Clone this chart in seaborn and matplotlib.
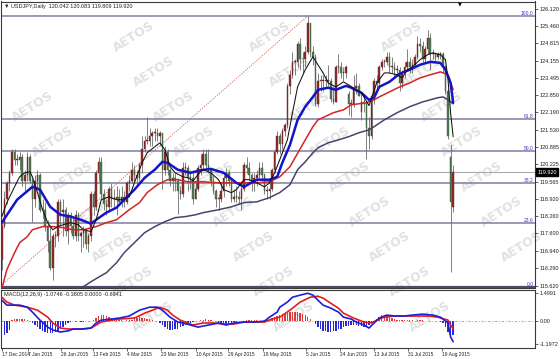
import numpy as np
import matplotlib
matplotlib.use("Agg")
import matplotlib.pyplot as plt
import matplotlib.transforms as mtransforms
import seaborn as sns

# ------------------------------------------------------------------ data
# daily USDJPY candles, 17 Dec 2014 .. 25 Aug 2015 (weekdays, no 25 Dec / 1 Jan)
opens = [116.6, 117.9, 118.9, 119.5, 119.9, 120.7, 120.4, 120.4, 120.5, 119.6,
         119.8, 120.5, 119.6, 118.9, 119.6, 119.8, 118.5, 118.5, 117.9, 117.3, 116.3, 117.5, 117.5, 118.8, 118.4, 118.5, 117.7, 118.3, 117.9, 117.5, 118.3,
         117.5, 117.6, 117.7, 117.2, 117.5, 119.1, 118.6, 119.9, 120.3, 119.1, 118.7, 118.6, 119.3, 118.9, 118.9, 119.0, 118.8, 119.0, 118.8, 119.5,
         119.6, 120.0, 119.8, 119.7, 120.2, 120.8, 121.1, 121.1, 121.3, 121.4, 121.4, 121.3, 121.4, 120.0, 120.7, 120.0, 119.6, 119.7, 119.6, 119.2, 119.1, 120.1,
         120.1, 119.7, 119.7, 118.9, 119.3, 120.1, 120.2, 120.6, 120.2, 120.0, 119.6, 119.2, 118.9, 118.9, 119.2, 119.7, 119.9, 119.6, 118.9, 119.0, 119.0, 118.9,
         119.3, 120.2, 120.1, 119.8, 119.5, 119.7, 119.8, 120.1, 119.8, 119.2, 119.2, 119.3, 120.0, 120.7, 121.3, 121.0, 121.5, 121.7, 123.2, 123.6, 124.1,
         124.1, 124.8, 124.2, 124.2, 124.5, 125.6, 124.5, 124.3, 122.5, 123.4, 123.4, 123.4, 123.4, 123.4, 122.7, 122.6, 123.9, 123.9, 123.7, 123.7, 122.9, 122.5,
         122.5, 123.1, 123.2, 122.2, 122.6, 122.5, 121.6, 121.3, 122.8, 123.4, 123.3, 123.9, 124.1, 124.1, 124.3, 123.9, 123.9, 123.8, 123.8, 123.3, 123.7, 123.9, 124.1,
         123.9, 124.0, 124.3, 124.8, 124.7, 124.2, 124.6, 125.0, 124.4, 124.4, 124.3, 124.4, 124.4, 123.9, 123.0, 120.5, 118.6]
highs = [118.1, 119.2, 119.6, 120.0, 120.8, 120.8, 120.6, 120.7, 120.6, 120.0,
         120.7, 120.6, 119.7, 119.8, 120.0, 119.9, 118.9, 118.8, 118.1, 117.9, 117.6, 117.7, 118.9, 118.9, 118.9, 118.6, 118.4, 118.4, 118.2, 118.5, 118.4,
         117.7, 117.9, 117.8, 117.6, 119.2, 119.2, 120.0, 120.5, 120.5, 119.3, 118.9, 119.4, 119.5, 119.3, 119.4, 119.3, 119.4, 119.2, 119.6, 119.8,
         120.3, 120.2, 120.0, 120.3, 121.3, 121.3, 122.0, 121.6, 121.5, 121.6, 121.6, 121.5, 121.4, 120.9, 120.8, 120.1, 119.9, 119.9, 119.7, 119.4, 120.3, 120.3,
         120.2, 120.0, 120.0, 119.6, 120.2, 120.6, 120.8, 120.8, 120.8, 120.1, 119.8, 119.3, 119.1, 119.5, 119.8, 120.1, 120.0, 119.7, 119.3, 119.4, 119.2, 119.6,
         120.3, 120.5, 120.3, 119.9, 119.9, 120.0, 120.3, 120.3, 119.9, 119.4, 119.6, 120.1, 120.8, 121.5, 121.4, 121.6, 121.8, 123.3, 123.8, 124.5, 124.2,
         124.9, 125.0, 124.5, 124.7, 125.86, 125.6, 124.7, 124.4, 123.7, 123.6, 123.6, 123.6, 124.0, 123.5, 123.2, 124.0, 124.4, 124.1, 123.9, 124.0, 123.0, 122.7,
         123.6, 123.7, 123.3, 122.9, 122.9, 122.6, 122.0, 122.9, 123.5, 123.6, 124.0, 124.2, 124.2, 124.5, 124.5, 124.3, 124.1, 124.0, 123.9, 123.8, 124.1, 124.6, 124.3,
         124.2, 124.4, 125.1, 125.0, 124.9, 124.7, 125.3, 125.2, 124.6, 124.5, 124.5, 124.5, 124.5, 124.0, 123.1, 121.0, 120.2]
lows = [116.2, 117.8, 118.7, 119.2, 119.8, 120.2, 120.2, 120.0, 119.4, 119.2,
        119.6, 119.5, 118.05, 118.6, 119.3, 118.4, 118.2, 117.7, 116.9, 116.2, 115.85, 117.1, 117.3, 117.9, 117.5, 117.5, 117.2, 117.6, 117.4, 117.3, 117.3,
        116.9, 117.1, 117.0, 116.9, 117.3, 118.3, 118.5, 119.6, 118.9, 118.5, 118.3, 118.4, 118.6, 118.6, 118.3, 118.7, 118.6, 118.6, 118.7, 119.2,
        119.5, 119.6, 119.4, 119.6, 119.9, 120.7, 121.0, 120.9, 120.9, 121.1, 121.1, 120.9, 119.3, 119.8, 119.8, 119.4, 119.2, 119.2, 118.33, 118.9, 119.0, 119.8,
        119.2, 119.3, 118.7, 118.9, 119.2, 119.8, 120.0, 120.1, 119.9, 119.4, 119.1, 118.6, 118.5, 118.8, 119.0, 119.4, 119.4, 118.8, 118.8, 118.8, 118.7, 118.5,
        119.2, 119.9, 119.6, 119.2, 119.2, 119.4, 119.7, 119.6, 119.1, 118.9, 118.9, 119.2, 119.9, 120.6, 120.6, 120.8, 121.3, 121.6, 122.9, 123.5, 123.6,
        123.9, 123.8, 123.7, 123.9, 124.4, 124.3, 124.0, 122.45, 122.4, 123.0, 123.0, 123.1, 123.2, 122.6, 122.5, 122.6, 123.7, 123.5, 123.4, 123.5, 122.1, 122.0,
        122.4, 122.9, 122.8, 121.9, 122.2, 120.41, 120.8, 121.2, 122.5, 123.0, 123.2, 123.8, 123.9, 124.0, 123.7, 123.7, 123.5, 123.6, 123.0, 123.1, 123.5, 123.8, 123.7,
        123.7, 123.9, 124.2, 124.5, 124.1, 124.1, 124.4, 123.8, 124.2, 124.1, 124.2, 124.2, 123.7, 122.9, 121.2, 116.15, 118.4]
closes = [117.9, 118.9, 119.5, 119.9, 120.7, 120.4, 120.4, 120.5, 119.6, 119.8,
          120.5, 119.6, 118.9, 119.6, 119.8, 118.5, 118.5, 117.9, 117.3, 116.3, 117.5, 117.5, 118.8, 118.4, 118.5, 117.7, 118.3, 117.9, 117.5, 118.3, 117.5,
          117.6, 117.7, 117.2, 117.5, 119.1, 118.6, 119.9, 120.3, 119.1, 118.7, 118.6, 119.3, 118.9, 118.9, 119.0, 118.8, 119.0, 118.8, 119.5, 119.6,
          120.0, 119.8, 119.7, 120.2, 120.8, 121.1, 121.1, 121.3, 121.4, 121.4, 121.3, 121.4, 120.0, 120.7, 120.0, 119.6, 119.7, 119.6, 119.2, 119.1, 120.1, 120.1,
          119.7, 119.7, 118.9, 119.3, 120.1, 120.2, 120.6, 120.2, 120.0, 119.6, 119.2, 118.9, 118.9, 119.2, 119.7, 119.9, 119.6, 118.9, 119.0, 119.0, 118.9, 119.3,
          120.2, 120.1, 119.8, 119.5, 119.7, 119.8, 120.1, 119.8, 119.2, 119.2, 119.3, 120.0, 120.7, 121.3, 121.0, 121.5, 121.7, 123.2, 123.6, 124.1, 124.1,
          124.8, 124.2, 124.2, 124.5, 125.6, 124.5, 124.3, 122.5, 123.4, 123.4, 123.4, 123.4, 123.4, 122.7, 122.6, 123.9, 123.9, 123.7, 123.7, 123.9, 122.5, 122.5,
          123.1, 123.2, 122.8, 122.6, 122.5, 121.6, 121.3, 122.8, 123.4, 123.3, 123.9, 124.1, 124.1, 124.3, 123.9, 123.9, 123.8, 123.8, 123.3, 123.7, 123.9, 124.1, 123.9,
          124.0, 124.3, 124.8, 124.7, 124.2, 124.6, 125.0, 124.4, 124.4, 124.3, 124.4, 124.4, 123.9, 123.0, 121.3, 118.8, 119.92]

# moving averages (bar index, price)
fast_idx = [0, 2, 5, 7, 9, 11, 12, 14, 16, 18, 20, 22, 24, 27, 30, 32, 35, 37, 39, 42, 45, 47, 50, 52, 55, 57, 60, 62, 64, 66, 68, 71, 73, 75, 78,
            79, 82, 85, 87, 90, 92, 95, 97, 100, 103, 105, 107, 109, 112, 114, 116, 119, 122, 126, 128, 131, 134, 136, 139, 141, 144, 147, 150, 152,
            155, 157, 159, 161, 164, 167, 169, 172, 174, 175, 176, 177]
fast_val = [118.24, 118.77, 119.37, 119.75, 119.90, 119.94, 119.75, 119.15, 118.50, 118.01, 117.74, 117.86, 117.93, 118.01, 117.93, 117.74, 117.67,
            118.12, 118.88, 118.99, 118.88, 118.88, 118.99, 119.52, 120.28, 120.66, 120.89, 121.04, 120.77, 120.13, 119.90, 119.75, 119.71, 119.60,
            119.95, 120.02, 119.90, 119.64, 119.26, 119.15, 119.26, 119.64, 119.64, 119.52, 119.37, 119.52, 119.90, 120.40, 121.15, 122.18, 123.16,
            123.81, 124.30, 123.69, 123.31, 123.16, 123.35, 123.24, 123.05, 122.94, 122.45, 123.31, 123.69, 123.69, 123.62, 123.50, 123.81, 123.92,
            124.19, 124.38, 124.45, 124.38, 124.19, 123.43, 122.18, 121.27]
mid_idx = [0, 6, 12, 15, 19, 23, 27, 31, 35, 37, 41, 45, 48, 52, 56, 60, 63, 65, 69, 74, 78, 82, 87, 92, 95, 100, 105, 108, 110, 113, 116, 119,
           122, 124, 128, 131, 135, 137, 141, 144, 146, 148, 152, 156, 160, 164, 168, 172, 174, 176, 177]
mid_val = [118.01, 118.88, 119.37, 119.26, 118.61, 118.31, 118.24, 118.12, 117.97, 118.12, 118.39, 118.58, 118.88, 119.26, 119.71, 120.02,
           120.32, 120.28, 120.02, 119.90, 120.00, 120.05, 119.90, 119.52, 119.37, 119.64, 119.64, 119.75, 120.28, 120.96, 121.91, 122.41,
           122.78, 123.05, 123.13, 123.05, 123.20, 123.13, 122.94, 122.67, 122.75, 123.16, 123.35, 123.66, 123.81, 124.00, 124.11, 124.07,
           123.81, 123.31, 122.56]
slow_idx = [0, 2, 5, 7, 10, 12, 16, 20, 24, 28, 32, 37, 41, 45, 50, 54, 57, 61, 65, 69, 73, 79, 85, 90, 95, 100, 105, 109, 113, 119, 122,
            124, 130, 134, 137, 143, 146, 148, 152, 156, 160, 164, 168, 172, 175, 177]
slow_val = [115.50, 116.23, 116.87, 117.25, 117.48, 117.74, 117.86, 117.86, 117.82, 117.74, 117.74, 117.86, 118.01, 118.12, 118.50, 118.77,
            119.15, 119.45, 119.64, 119.64, 119.56, 119.56, 119.52, 119.52, 119.52, 119.52, 119.56, 119.75, 120.13, 121.15, 121.65, 121.91,
            122.18, 122.29, 122.48, 122.56, 122.67, 122.78, 122.97, 123.16, 123.31, 123.50, 123.62, 123.73, 123.62, 123.05]
long_idx = [30, 32, 35, 39, 41, 45, 48, 52, 56, 60, 64, 68, 72, 76, 79, 85, 90, 95, 100, 105, 109, 113, 116, 119, 122, 124, 128, 132, 136,
            140, 144, 146, 150, 155, 160, 165, 171, 173, 175, 177]
long_val = [115.45, 115.58, 115.77, 116.00, 116.11, 116.49, 116.87, 117.25, 117.63, 117.86, 118.05, 118.20, 118.24, 118.31, 118.39, 118.50,
            118.61, 118.77, 118.80, 118.96, 119.15, 119.45, 120.02, 120.32, 120.66, 120.85, 121.04, 121.15, 121.27, 121.42, 121.53, 121.65,
            121.91, 122.18, 122.41, 122.59, 122.75, 122.78, 122.67, 122.52]

# MACD(12,26,9)
macd_idx = [0, 2, 5, 7, 10, 12, 15, 18, 20, 23, 26, 28, 32, 35, 37, 39, 43, 46, 50, 54, 58, 61, 63, 66, 69, 71, 74, 77, 81, 85, 88, 91, 95,
            99, 103, 105, 108, 109, 112, 114, 117, 120, 122, 124, 126, 129, 132, 134, 137, 139, 142, 144, 146, 148, 151, 154, 158, 161, 165,
            169, 172, 175, 176, 177]
macd_main = [1.13, 0.87, 0.87, 0.87, 0.76, 0.50, 0.07, -0.30, -0.45, -0.56, -0.50, -0.40, -0.40, -0.35, -0.08, 0.07, 0.13, 0.18, 0.29, 0.60,
             0.76, 0.76, 0.60, 0.23, -0.03, -0.08, -0.19, -0.30, -0.19, -0.08, -0.19, -0.08, -0.03, -0.03, 0.02, 0.23, 0.50, 0.76, 1.03, 1.29,
             1.40, 1.50, 1.40, 1.13, 0.87, 0.71, 0.50, 0.23, 0.13, -0.03, -0.19, -0.35, -0.08, 0.18, 0.34, 0.29, 0.29, 0.34, 0.39, 0.34, 0.23,
             -0.08, -0.82, -1.0746]
sig_idx = [0, 2, 5, 10, 14, 18, 20, 23, 26, 31, 35, 39, 43, 46, 52, 56, 59, 62, 65, 67, 70, 73, 75, 79, 83, 87, 91, 95, 103, 106, 109, 113,
           117, 121, 124, 126, 129, 132, 134, 138, 142, 145, 147, 150, 154, 161, 167, 171, 175, 176, 177]
sig_val = [1.29, 1.03, 0.87, 0.76, 0.60, 0.23, -0.08, -0.35, -0.40, -0.40, -0.35, -0.03, 0.07, 0.13, 0.18, 0.44, 0.60, 0.76, 0.60, 0.34, 0.07,
           -0.08, -0.19, -0.08, -0.08, -0.14, -0.14, -0.03, -0.03, 0.13, 0.23, 0.60, 1.03, 1.29, 1.34, 1.24, 0.97, 0.71, 0.44, 0.18, -0.03,
           -0.08, 0.07, 0.23, 0.29, 0.29, 0.29, 0.23, 0.07, -0.19, -0.3805]
hist = [-0.75, -0.7, -0.6, -0.45,
        0.1, 0.12, 0.14, 0.15, 0.14, 0.12, 0.1, 0.05,
        -0.1, -0.2, -0.3,
        -0.4, -0.5, -0.55, -0.6, -0.62, -0.6, -0.55, -0.5, -0.4,
        -0.3, -0.2, -0.1,
        -0.03, 0.02, -0.02, 0.03, -0.03, -0.02, 0.02, 0.03, 0.05, 0.1,
        0.2, 0.3, 0.35, 0.35, 0.3, 0.25, 0.2,
        0.12, 0.1, 0.08, 0.06, 0.05, 0.06, 0.08, 0.1,
        0.15, 0.2, 0.22, 0.2, 0.18, 0.15, 0.12, 0.1, 0.05, 0.02,
        -0.1, -0.2, -0.3, -0.4, -0.45, -0.45, -0.42, -0.38, -0.3, -0.25, -0.2, -0.15,
        -0.1, -0.05, 0.02, 0.05, 0.08,
        0.1, 0.12, 0.1, 0.08, 0.05, 0.02,
        -0.08, -0.12, -0.15, -0.15, -0.12, -0.08,
        -0.05, -0.03, 0.01, 0.02, 0.05, 0.08, 0.1,
        0.1, 0.08, 0.06, 0.05, 0.04, 0.03,
        0.08, 0.15, 0.2, 0.25, 0.3,
        0.35, 0.4, 0.42, 0.45, 0.5, 0.52, 0.5, 0.48, 0.45, 0.4, 0.35,
        0.25, 0.15, 0.02, -0.15,
        -0.3, -0.4, -0.48, -0.52, -0.55, -0.55, -0.52, -0.48, -0.42, -0.38, -0.3,
        -0.25, -0.22, -0.2, -0.18, -0.2, -0.22, -0.25, -0.3, -0.28, -0.2, -0.1,
        0.05, 0.15, 0.25, 0.32, 0.35, 0.3, 0.25, 0.18,
        0.12, 0.1, 0.08, 0.06, 0.08, 0.1, 0.08, 0.06, 0.05, 0.06, 0.08, 0.07, 0.05, 0.04, 0.05, 0.04, 0.03, 0.02,
        -0.02, -0.1, -0.3, -0.55, -0.85, -0.6941]

# Fibonacci retracement (16 Dec 2014 low -> 5 Jun 2015 high)
fib_low, fib_high = 115.57, 125.86
fib_low_idx, fib_high_idx = -1, 120
fib_levels = [0.0, 23.6, 38.2, 50.0, 61.8, 100.0]
bid = 119.920

price_ticks = [126.120, 125.460, 124.815, 124.155, 123.495, 122.850, 122.190, 121.530, 120.885,
               120.225, 119.565, 118.920, 118.260, 117.600, 116.940, 116.290, 115.620]
macd_ticks = [1.4991, 0.0, -1.1972]
macd_tick_labels = ["1.4991", "0.00", "-1.1972"]
date_labels = ["17 Dec 2014", "7 Jan 2015", "26 Jan 2015", "13 Feb 2015", "4 Mar 2015", "23 Mar 2015",
               "10 Apr 2015", "29 Apr 2015", "18 May 2015", "5 Jun 2015", "24 Jun 2015", "13 Jul 2015",
               "31 Jul 2015", "19 Aug 2015"]
date_label_pos = [0.1, 10.3, 23.2, 35.8, 49.1, 62.4, 76.2, 88.7, 102.4, 119.3, 132.6, 146.0, 159.3, 172.6]

header = "\u25BC USDJPY,Daily  120.042 120.083 119.809 119.920"
macd_header = "MACD(12,26,9) -1.0746 -0.3805 0.0000 -0.6941"

# ------------------------------------------------------------------ style
sns.set_theme(style="white")
plt.rcParams['font.family'] = ['Liberation Sans', 'DejaVu Sans']

W, H = 560, 359
fig = plt.figure(figsize=(W / 100, H / 100), dpi=100, facecolor='white')


def px_axes(x0, y0, x1, y1):
    return fig.add_axes([x0 / W, 1 - y1 / H, (x1 - x0) / W, (y1 - y0) / H])


ax = px_axes(1, 1.5, 535, 287.5)
axm = px_axes(1, 289.5, 535, 348)
for a in (ax, axm):
    a.set_facecolor('none')
    for s in a.spines.values():
        s.set_color('#3a3a3a')
        s.set_linewidth(0.8)

# watermark lattice (only the copies that fit inside the picture)
for c0 in [-103, 33, 174, 310, 442, 578]:
    for r in range(-4, 9):
        xc, yc = c0 + 20 * r, 107 + 35 * r
        if 26 < xc < 534 and 18 < yc < 342:
            fig.text(xc / W, 1 - yc / H, "AETOS", rotation=32, rotation_mode='anchor',
                     ha='center', va='center', fontsize=9, fontweight='bold',
                     color='#e1e1e1', family='DejaVu Sans', zorder=-1)

XL = (-0.31, 209.1)

# ---------------- main price panel
o, h, l, c = map(np.array, (opens, highs, lows, closes))
x = np.arange(len(c))
bull, bear = '#8e2b2b', '#4d7a4d'
up = c >= o
ax.vlines(x, l, h, color='#6a6a6a', lw=0.6, zorder=3)
ax.bar(x, np.maximum(np.abs(c - o), 0.035), bottom=np.minimum(o, c), width=0.62,
       color=np.where(up, bull, bear), edgecolor=np.where(up, '#6e1f1f', '#3c5e3c'),
       linewidth=0.3, zorder=4)

fib_col = '#7c809c'
for lv in fib_levels:
    p = fib_low + (fib_high - fib_low) * lv / 100.0
    ax.axhline(p, color='#4a4e6a' if lv == 0 else fib_col, lw=1.6 if lv == 0 else 1.1, zorder=1)
    ax.text(0.997, p, f"{lv:.1f}", transform=mtransforms.blended_transform_factory(ax.transAxes, ax.transData),
            ha='right', va='bottom', fontsize=3.6, color='#3a3ac8', zorder=6)
ax.axhline(bid, color='#a9a9a9', lw=0.8, zorder=1)
ax.plot([fib_low_idx, fib_high_idx], [fib_low, fib_high], color='#d25a5a', lw=0.6,
        ls=(0, (1.5, 1.5)), zorder=2)

sns.lineplot(x=long_idx, y=long_val, ax=ax, color='#45456e', linewidth=1.1, zorder=5)
sns.lineplot(x=slow_idx, y=slow_val, ax=ax, color='#d42424', linewidth=1.1, zorder=5)
sns.lineplot(x=mid_idx, y=mid_val, ax=ax, color='#1414c8', linewidth=1.8, zorder=6)
sns.lineplot(x=fast_idx, y=fast_val, ax=ax, color='#111111', linewidth=0.75, zorder=7)

ax.set_xlim(*XL)
ax.set_ylim(115.55, 126.40)
ax.set_xlabel('')
ax.set_ylabel('')
ax.set_xticks([])
ax.yaxis.tick_right()
ax.set_yticks(price_ticks)
ax.set_yticklabels([f"{v:.3f}" for v in price_ticks])
ax.tick_params(axis='y', right=True, left=False, labelright=True, labelleft=False,
               length=2, width=0.5, pad=1.5, labelsize=4, colors='#222222')
ax.text(1.004, bid, f"{bid:.3f}", transform=mtransforms.blended_transform_factory(ax.transAxes, ax.transData),
        ha='left', va='center', fontsize=4, color='white',
        bbox=dict(facecolor='black', edgecolor='black', boxstyle='square,pad=0.25'), zorder=10, clip_on=False)
ax.text(0.006, 0.993, header, transform=ax.transAxes, ha='left', va='top', fontsize=4, color='#222222')
fig.text(460 / W, 1 - 3.5 / H, "\u25BC", ha='center', va='center', fontsize=3.5, color='black',
         family='DejaVu Sans')

# ---------------- MACD panel
hx = np.arange(len(hist))
hist_arr = np.array(hist)
axm.bar(hx, hist_arr, width=0.55, color=np.where(hist_arr >= 0, '#e23a3a', '#2a2ad2'),
        linewidth=0, zorder=2)
axm.axhline(0, color='#9a9a9a', lw=0.6, ls=(0, (3, 2, 1, 2)), zorder=1)
sns.lineplot(x=sig_idx, y=sig_val, ax=axm, color='#e01e1e', linewidth=1.2, zorder=4)
sns.lineplot(x=macd_idx, y=macd_main, ax=axm, color='#1e1ed8', linewidth=1.2, zorder=5)
axm.set_xlim(*XL)
axm.set_ylim(-1.41, 1.70)
axm.set_xlabel('')
axm.set_ylabel('')
axm.yaxis.tick_right()
axm.set_yticks(macd_ticks)
axm.set_yticklabels(macd_tick_labels)
axm.tick_params(axis='y', right=True, left=False, labelright=True, labelleft=False,
                length=2, width=0.5, pad=1.5, labelsize=4, colors='#222222')
axm.set_xticks(date_label_pos)
axm.set_xticklabels(date_labels)
axm.tick_params(axis='x', bottom=True, length=2, width=0.5, pad=1, labelsize=3.5, colors='#222222')
for lab in axm.get_xticklabels():
    lab.set_ha('left')
axm.text(0.006, 0.95, macd_header, transform=axm.transAxes, ha='left', va='top', fontsize=4, color='#222222')

fig.savefig("out.png", dpi=100, facecolor='white')
